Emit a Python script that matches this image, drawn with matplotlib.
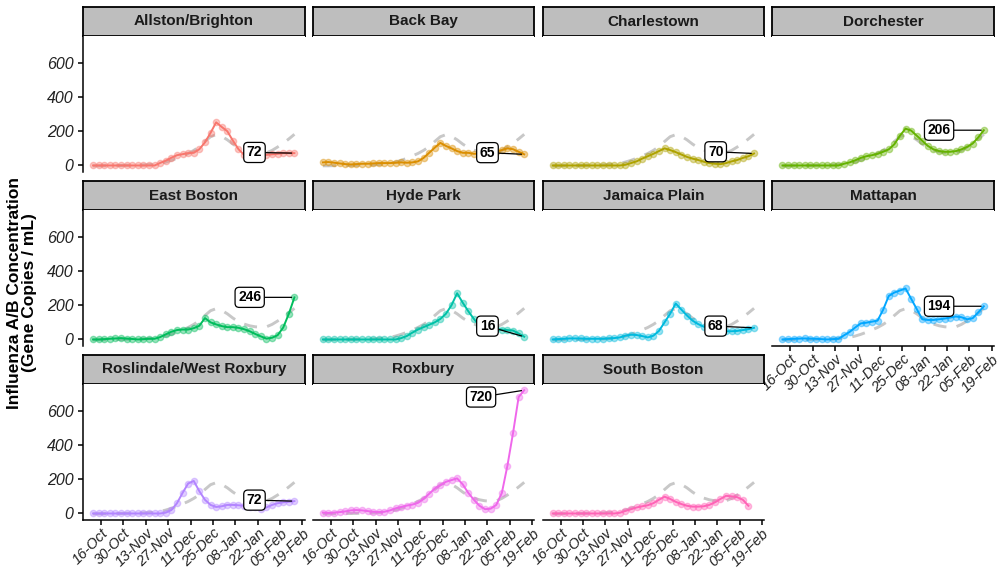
import matplotlib
matplotlib.use("Agg")
import matplotlib.pyplot as plt
import matplotlib.dates as mdates
import pandas as pd
import numpy as np

plt.rcParams['font.family'] = ['Liberation Sans', 'DejaVu Sans']

# ---------------- datos ----------------
fechas = pd.date_range('2023-10-11', '2024-02-14', periods=37)

distritos = ["Allston/Brighton", "Back Bay", "Charlestown", "Dorchester",
             "East Boston", "Hyde Park", "Jamaica Plain", "Mattapan",
             "Roslindale/West Roxbury", "Roxbury", "South Boston"]

allston = [0, 0, 0, 0, 0, 0, 0, 0, 0, 0, 0, 0, 15, 28, 45, 60, 66, 72, 74, 95, 135, 190,
           252, 225, 200, 145, 95, 62, 55, 55, 58, 62, 65, 68, 72, 72, 72]
back_bay = [18, 20, 16, 12, 8, 6, 8, 10, 10, 12, 14, 14, 14, 16, 18, 16, 18, 24, 44, 74, 104,
            132, 114, 100, 84, 74, 74, 68, 70, 75, 78, 80, 90, 100, 95, 80, 65]
charlestown = [0, 0, 0, 0, 0, 0, 0, 0, 0, 0, 0, 0, 0, 4, 14, 24, 40, 54, 68, 84, 100, 90, 78,
               64, 50, 40, 32, 22, 14, 10, 8, 14, 24, 32, 44, 54, 70]
dorchester = [0, 0, 0, 0, 0, 0, 0, 0, 0, 0, 0, 10, 18, 30, 44, 54, 60, 68, 80, 94, 124, 174,
              215, 204, 174, 144, 114, 94, 84, 80, 80, 84, 94, 108, 128, 164, 206]
east_boston = [0, 0, 2, 4, 6, 8, 5, 3, 0, 2, 4, 4, 14, 30, 45, 55, 58, 58, 66, 80, 125, 100,
               88, 78, 72, 72, 68, 60, 48, 32, 18, 5, 10, 25, 70, 150, 246]
hyde_park = [0, 0, 0, 0, 0, 0, 0, 0, 0, 0, 0, 0, 0, 0, 8, 20, 40, 58, 72, 86, 100, 120, 150,
             200, 270, 215, 165, 120, 80, 60, 55, 60, 58, 55, 52, 35, 16]
jamaica_plain = [0, 2, 4, 6, 6, 6, 4, 4, 4, 4, 6, 8, 12, 22, 28, 26, 20, 12, 22, 50, 100, 150,
                 210, 175, 140, 110, 90, 75, 65, 55, 50, 48, 48, 50, 55, 60, 68]
mattapan = [0, 2, 4, 5, 6, 5, 4, 2, 0, 2, 4, 24, 44, 70, 94, 98, 104, 110, 174, 254, 274, 286,
            298, 238, 178, 118, 114, 114, 118, 122, 128, 134, 130, 118, 124, 158, 194]
roslindale = [0, 0, 0, 0, 0, 0, 0, 0, 0, 0, 0, 0, 0, 5, 20, 60, 120, 175, 190, 130, 80, 50,
              38, 42, 50, 50, 48, 45, 40, 35, 28, 35, 50, 60, 65, 68, 72]
roxbury = [5, 3, 5, 8, 12, 18, 20, 18, 14, 10, 8, 10, 18, 30, 38, 46, 52, 62, 85, 115, 145,
           165, 185, 195, 205, 170, 120, 80, 45, 25, 28, 50, 120, 280, 470, 680, 720]
south_boston = [0, 0, 0, 0, 0, 0, 0, 0, 0, 0, 0, 0, 4, 15, 25, 35, 42, 48, 60, 80, 98, 85, 68,
                55, 45, 40, 40, 42, 50, 65, 85, 103, 100, 95, 80, 45]

# curva de referencia (toda la ciudad, gris discontinua)
referencia = [-2, -2, -1, -1, 0, 0, 1, 1, 2, 3, 5, 8, 12, 20, 30, 42, 56, 70, 88, 110, 140,
              168, 180, 170, 150, 125, 104, 90, 80, 74, 72, 74, 88, 108, 130, 155, 182]

series = [allston, back_bay, charlestown, dorchester, east_boston, hyde_park,
          jamaica_plain, mattapan, roslindale, roxbury, south_boston]

colores = ["#F8766D", "#DB8E00", "#AEA200", "#64B200", "#00BD5C", "#00C1A7",
           "#00BADE", "#00A6FF", "#B385FF", "#EF67EB", "#FF63B6"]

# desplazamiento de las etiquetas (dias, valor)
etiqueta_dx = [-25, -23, -24, -28, -28, -23, -24, -28, -25, -27, 0]
etiqueta_dy = [4, 10, 10, 0, 0, 62, 10, 0, 6, -40, 0]

ticks = pd.date_range('2023-10-16', '2024-02-19', freq='14D')

# ---------------- figura ----------------
fig = plt.figure(figsize=(10, 5.71), dpi=100)
W, H = 1000, 571

p_w = 221.5
gap = 8.3
x_left = [83 + i * (p_w + gap) for i in range(4)]
row_top = [7, 181, 355]
strip_h = 29
p_h = 136

todo = np.concatenate([np.concatenate([np.array(s, float) for s in series]), referencia])
rango = todo.max() - todo.min()
ylim = (todo.min() - 0.05 * rango, todo.max() + 0.05 * rango)
xmin, xmax = fechas[0], fechas[-1]
xr = (xmax - xmin) * 0.05
xlim = (xmin - xr, xmax + xr)

for k, nombre in enumerate(distritos):
    fila, col = divmod(k, 4)
    x0 = x_left[col]
    top = row_top[fila]
    # strip
    sax = fig.add_axes([x0 / W, 1 - (top + strip_h) / H, p_w / W, strip_h / H])
    sax.set_facecolor('#BEBEBE')
    sax.set_xticks([])
    sax.set_yticks([])
    for s in sax.spines.values():
        s.set_linewidth(1.3)
        s.set_color('black')
    sax.text(0.5, 0.5, nombre, ha='center', va='center', fontsize=11,
             fontweight='bold', color='#1a1a1a', transform=sax.transAxes)

    ax = fig.add_axes([x0 / W, 1 - (top + strip_h + p_h) / H, p_w / W, p_h / H])
    vals = series[k]
    f = fechas[:len(vals)]
    ax.plot(fechas, referencia, color='#C8C8C8', lw=2.1, ls=(0, (4.5, 3.5)), zorder=1)
    ax.plot(f, vals, color=colores[k], lw=1.4, zorder=2)
    ax.plot(f, vals, 'o', color=colores[k], ms=4.5, alpha=0.4, mec=colores[k], zorder=3)

    if len(vals) == len(fechas):
        xt = f[-1] + pd.Timedelta(days=etiqueta_dx[k])
        yt = vals[-1] + etiqueta_dy[k]
        ax.annotate(str(vals[-1]), xy=(f[-1], vals[-1]), xytext=(xt, yt),
                    ha='center', va='center', fontsize=10, fontweight='bold',
                    bbox=dict(boxstyle='round,pad=0.22,rounding_size=0.3',
                              fc='white', ec='black', lw=0.9),
                    arrowprops=dict(arrowstyle='-', color='black', lw=0.9,
                                    shrinkA=0, shrinkB=2), zorder=5)

    ax.set_xlim(xlim)
    ax.set_ylim(ylim)
    ax.set_xticks(ticks)
    ax.set_yticks([0, 200, 400, 600])
    for s in ax.spines.values():
        s.set_visible(False)

    eje_y = (col == 0)
    eje_x = (fila == 2) or (k == 7)
    if eje_y:
        ax.spines['left'].set_visible(True)
        ax.spines['left'].set_linewidth(1.1)
        ax.tick_params(axis='y', length=3.5, width=1.1, labelsize=11.5,
                       colors='black', labelcolor='#222222')
        for t in ax.get_yticklabels():
            t.set_fontstyle('italic')
    else:
        ax.tick_params(axis='y', left=False, labelleft=False)
    if eje_x:
        ax.spines['bottom'].set_visible(True)
        ax.spines['bottom'].set_linewidth(1.1)
        ax.xaxis.set_major_formatter(mdates.DateFormatter('%d-%b'))
        ax.tick_params(axis='x', length=3.5, width=1.1, labelsize=10.5,
                       colors='black', labelcolor='#222222', pad=1)
        for t in ax.get_xticklabels():
            t.set_fontstyle('italic')
            t.set_rotation(45)
            t.set_ha('right')
            t.set_rotation_mode('anchor')
    else:
        ax.tick_params(axis='x', bottom=False, labelbottom=False)

fig.text(22 / W, 1 - 293 / H, "Influenza A/B Concentration\n(Gene Copies / mL)",
         rotation=90, ha='center', va='center', fontsize=12.5, fontweight='bold',
         multialignment='center', linespacing=1.0)

fig.savefig('out.png', dpi=100)
